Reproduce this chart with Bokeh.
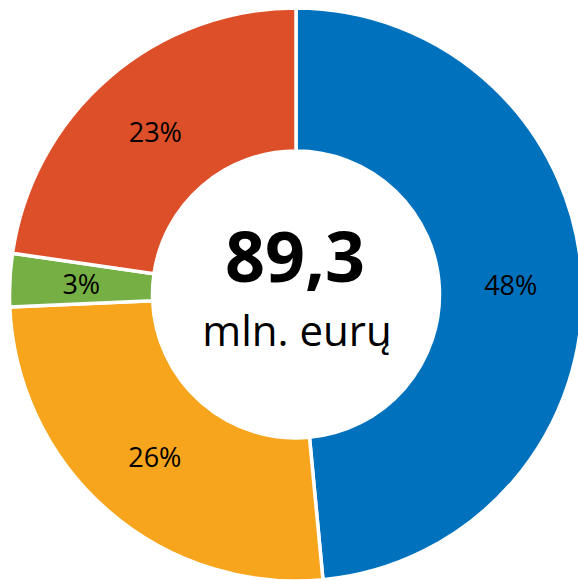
import math
from bokeh.plotting import figure
from bokeh.models import Range1d, ColumnDataSource
from bokeh.core.properties import value
from bokeh.embed import file_html
from bokeh.resources import INLINE

categories = ["A", "B", "C", "D"]
shares = [48.5, 25.8, 3.0, 22.7]
colors = ["#0071BC", "#F7A51D", "#76B044", "#DD4F29"]
labels = ["48%", "26%", "3%", "23%"]
total_label = "89,3"
unit_label = "mln. eurų"

R_OUT = 286.5
R_IN = 143.5

total = sum(shares)
starts, ends, lx, ly = [], [], [], []
acc = 0.0
for s in shares:
    a0 = math.pi / 2 - 2 * math.pi * acc / total
    a1 = math.pi / 2 - 2 * math.pi * (acc + s) / total
    mid = (a0 + a1) / 2
    starts.append(a0)
    ends.append(a1)
    rm = 215
    lx.append(rm * math.cos(mid))
    ly.append(rm * math.sin(mid))
    acc += s

src = ColumnDataSource(dict(cat=categories, start=starts, end=ends, color=colors,
                            lx=lx, ly=ly, label=labels))

W, H = 578, 580
CX, CY = 295.5, 294
p = figure(width=W, height=H, output_backend="svg", toolbar_location=None,
           x_range=Range1d(-CX, W - CX), y_range=Range1d(-(H - CY), CY),
           min_border=0, outline_line_color=None)
p.axis.visible = False
p.grid.visible = False
p.background_fill_color = "white"
p.border_fill_color = "white"

p.annular_wedge(x=0, y=0, inner_radius=R_IN, outer_radius=R_OUT,
                start_angle="start", end_angle="end", direction="clock",
                fill_color="color", line_color="white", line_width=3.5, source=src)

p.text(x="lx", y="ly", text="label", source=src, text_align="center",
       text_baseline="middle", text_font=value("Open Sans"), text_font_size="27px",
       text_color="black")

p.text(x=[-1], y=[38], text=[total_label], text_align="center", text_baseline="middle",
       text_font=value("Open Sans"), text_font_style="bold", text_font_size="70px",
       text_color="black")
p.text(x=[1], y=[-35], text=[unit_label], text_align="center", text_baseline="middle",
       text_font=value("Open Sans"), text_font_size="42px", text_color="black")

open("out.html", "w").write(file_html(p, INLINE))
